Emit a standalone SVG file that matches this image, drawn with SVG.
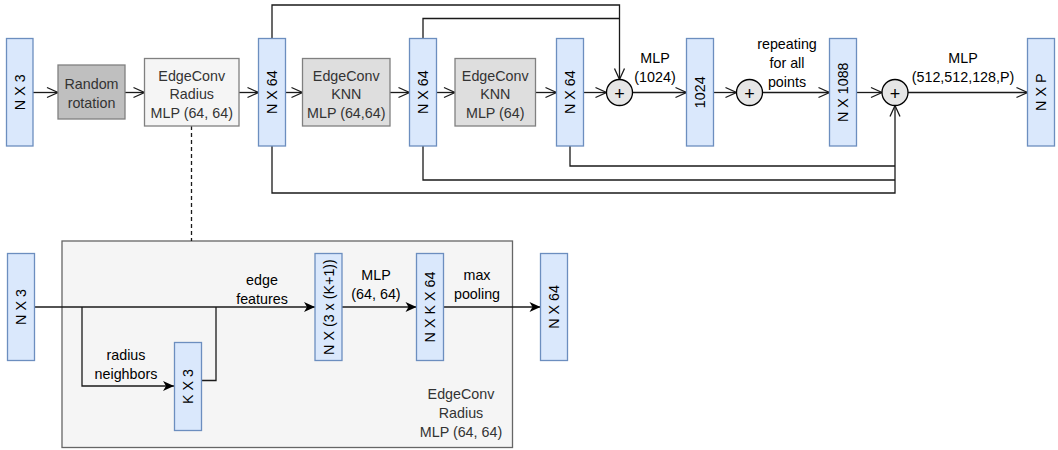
<svg xmlns="http://www.w3.org/2000/svg" width="1058" height="450" viewBox="0 0 1058 450">
<style>
text{font-family:"Liberation Sans",Arial,sans-serif;font-size:14.3px;fill:#000}
.blue{fill:#dae8fc;stroke:#6c8ebf;stroke-width:1.3}
.g1{fill:#bfbfbf;stroke:#808080;stroke-width:1.3}
.g2{fill:#dedede;stroke:#808080;stroke-width:1.3}
.g3{fill:#f5f5f5;stroke:#808080;stroke-width:1.3}
.gt{fill:#333}
.c{fill:#e6e6e6;stroke:#000;stroke-width:1.3}
.pl{font-size:18px}
.ln{fill:none;stroke:#1a1a1a;stroke-width:1.3}
.oa{marker-end:url(#open)}
.fa{marker-end:url(#fill)}
.m{text-anchor:middle}
.r{text-anchor:middle;dominant-baseline:central}
</style>
<defs>
<marker id="open" markerUnits="userSpaceOnUse" markerWidth="14" markerHeight="14" refX="11" refY="6" orient="auto" overflow="visible">
<path d="M0,1 L11,6 L0,11" fill="none" stroke="#1a1a1a" stroke-width="1.3"/>
</marker>
<marker id="fill" markerUnits="userSpaceOnUse" markerWidth="14" markerHeight="14" refX="11" refY="5" orient="auto" overflow="visible">
<path d="M0,0 L11,5 L0,10 L3,5 z" fill="#000" stroke="none"/>
</marker>
</defs>

<g id="subgraph-box">
<rect x="62" y="241" width="450.5" height="206.5" fill="#f5f5f5" stroke="#666" stroke-width="1.3"/>
<text class="m gt" x="461" y="399">EdgeConv</text>
<text class="m gt" x="461" y="418">Radius</text>
<text class="m gt" x="461" y="437">MLP (64, 64)</text>
</g>

<g id="connectors">
<line class="ln oa" x1="33" y1="92.5" x2="58" y2="92.5"/>
<line class="ln oa" x1="125" y1="92.5" x2="144.5" y2="92.5"/>
<line class="ln oa" x1="239" y1="92.5" x2="258.5" y2="92.5"/>
<line class="ln oa" x1="285.5" y1="92.5" x2="302.5" y2="92.5"/>
<line class="ln oa" x1="390" y1="92.5" x2="409.5" y2="92.5"/>
<line class="ln oa" x1="436.5" y1="92.5" x2="455" y2="92.5"/>
<line class="ln oa" x1="535.5" y1="92.5" x2="556.5" y2="92.5"/>
<line class="ln oa" x1="583.5" y1="92.5" x2="606.5" y2="92.5"/>
<line class="ln oa" x1="632.5" y1="92.5" x2="686.5" y2="92.5"/>
<line class="ln oa" x1="713.5" y1="92.5" x2="736.5" y2="92.5"/>
<line class="ln oa" x1="762.5" y1="92.5" x2="829.5" y2="92.5"/>
<line class="ln oa" x1="856.5" y1="92.5" x2="882" y2="92.5"/>
<line class="ln oa" x1="908" y1="92.5" x2="1027.5" y2="92.5"/>
<polyline class="ln oa" points="272,38.5 272,5 619.5,5 619.5,79.5"/>
<polyline class="ln" points="423,38.5 423,18.5 619.5,18.5"/>
<polyline class="ln" points="570,146 570,166 895,166"/>
<polyline class="ln" points="423,146 423,180 895,180"/>
<polyline class="ln oa" points="272,146 272,193 895,193 895,105.5"/>
<line class="ln" x1="191.5" y1="126" x2="191.5" y2="241" stroke-dasharray="4,3"/>
<line class="ln fa" x1="34" y1="307" x2="315" y2="307"/>
<polyline class="ln fa" points="82,307 82,386 174,386"/>
<polyline class="ln" points="201,380.5 216,380.5 216,307"/>
<line class="ln fa" x1="341.5" y1="307" x2="416.5" y2="307"/>
<line class="ln fa" x1="443.5" y1="307" x2="540.5" y2="307"/>
</g>

<g id="labels">
<text class="m" x="655" y="63">MLP</text>
<text class="m" x="655" y="82">(1024)</text>
<text class="m" x="787" y="49">repeating</text>
<text class="m" x="787" y="68">for all</text>
<text class="m" x="787" y="87">points</text>
<text class="m" x="963" y="63">MLP</text>
<text class="m" x="963" y="82">(512,512,128,P)</text>
<text class="m" x="262" y="285">edge</text>
<text class="m" x="262" y="304">features</text>
<text class="m" x="126" y="360">radius</text>
<text class="m" x="126" y="379">neighbors</text>
<text class="m" x="376" y="280">MLP</text>
<text class="m" x="376" y="299">(64, 64)</text>
<text class="m" x="477" y="280">max</text>
<text class="m" x="477" y="299">pooling</text>
</g>

<g id="in-nx3"><rect class="blue" x="6.5" y="38.5" width="26.5" height="107.5"/><text class="r" transform="rotate(-90 19.75 92.25)" x="19.75" y="92.25">N X 3</text></g>
<g id="random-rotation"><rect class="g1" x="58" y="65" width="67" height="54"/><text class="m gt" x="91.5" y="89">Random</text><text class="m gt" x="91.5" y="108">rotation</text></g>
<g id="edgeconv-radius"><rect class="g3" x="144.5" y="58.5" width="94.5" height="67.5"/><text class="m gt" x="191.75" y="81">EdgeConv</text><text class="m gt" x="191.75" y="99">Radius</text><text class="m gt" x="191.75" y="118">MLP (64, 64)</text></g>
<g id="nx64-1"><rect class="blue" x="258.5" y="38.5" width="27" height="107.5"/><text class="r" transform="rotate(-90 272 92.25)" x="272" y="92.25">N X 64</text></g>
<g id="edgeconv-knn-1"><rect class="g2" x="302.5" y="58.5" width="87.5" height="67.5"/><text class="m gt" x="346.25" y="81">EdgeConv</text><text class="m gt" x="346.25" y="99">KNN</text><text class="m gt" x="346.25" y="118">MLP (64,64)</text></g>
<g id="nx64-2"><rect class="blue" x="409.5" y="38.5" width="27" height="107.5"/><text class="r" transform="rotate(-90 423 92.25)" x="423" y="92.25">N X 64</text></g>
<g id="edgeconv-knn-2"><rect class="g2" x="455" y="58.5" width="80.5" height="67.5"/><text class="m gt" x="495.25" y="81">EdgeConv</text><text class="m gt" x="495.25" y="99">KNN</text><text class="m gt" x="495.25" y="118">MLP (64)</text></g>
<g id="nx64-3"><rect class="blue" x="556.5" y="38.5" width="27" height="107.5"/><text class="r" transform="rotate(-90 570 92.25)" x="570" y="92.25">N X 64</text></g>
<g id="plus-1"><circle class="c" cx="619.5" cy="92.5" r="13"/><text class="r pl" x="619.5" y="94">+</text></g>
<g id="f1024"><rect class="blue" x="686.5" y="38.5" width="27" height="107.5"/><text class="r" transform="rotate(-90 700 92.25)" x="700" y="92.25">1024</text></g>
<g id="plus-2"><circle class="c" cx="749.5" cy="92.5" r="13"/><text class="r pl" x="749.5" y="94">+</text></g>
<g id="nx1088"><rect class="blue" x="829.5" y="38.5" width="27" height="107.5"/><text class="r" transform="rotate(-90 843 92.25)" x="843" y="92.25">N X 1088</text></g>
<g id="plus-3"><circle class="c" cx="895" cy="92.5" r="13"/><text class="r pl" x="895" y="94">+</text></g>
<g id="nxp"><rect class="blue" x="1027.5" y="38.5" width="27" height="107.5"/><text class="r" transform="rotate(-90 1041 92.25)" x="1041" y="92.25">N X P</text></g>

<g id="b-nx3"><rect class="blue" x="7.5" y="253.5" width="27" height="107"/><text class="r" transform="rotate(-90 21 307)" x="21" y="307">N X 3</text></g>
<g id="b-kx3"><rect class="blue" x="174.5" y="342.5" width="27" height="88"/><text class="r" transform="rotate(-90 188 386.5)" x="188" y="386.5">K X 3</text></g>
<g id="b-nx3k1"><rect class="blue" x="315" y="253.5" width="27" height="107"/><text class="r" transform="rotate(-90 328.5 307)" x="328.5" y="307">N X (3 x (K+1))</text></g>
<g id="b-nxkx64"><rect class="blue" x="416.5" y="253.5" width="27" height="107"/><text class="r" transform="rotate(-90 430 307)" x="430" y="307">N X K X 64</text></g>
<g id="b-nx64"><rect class="blue" x="540.5" y="253.5" width="27" height="107"/><text class="r" transform="rotate(-90 554 307)" x="554" y="307">N X 64</text></g>
</svg>
